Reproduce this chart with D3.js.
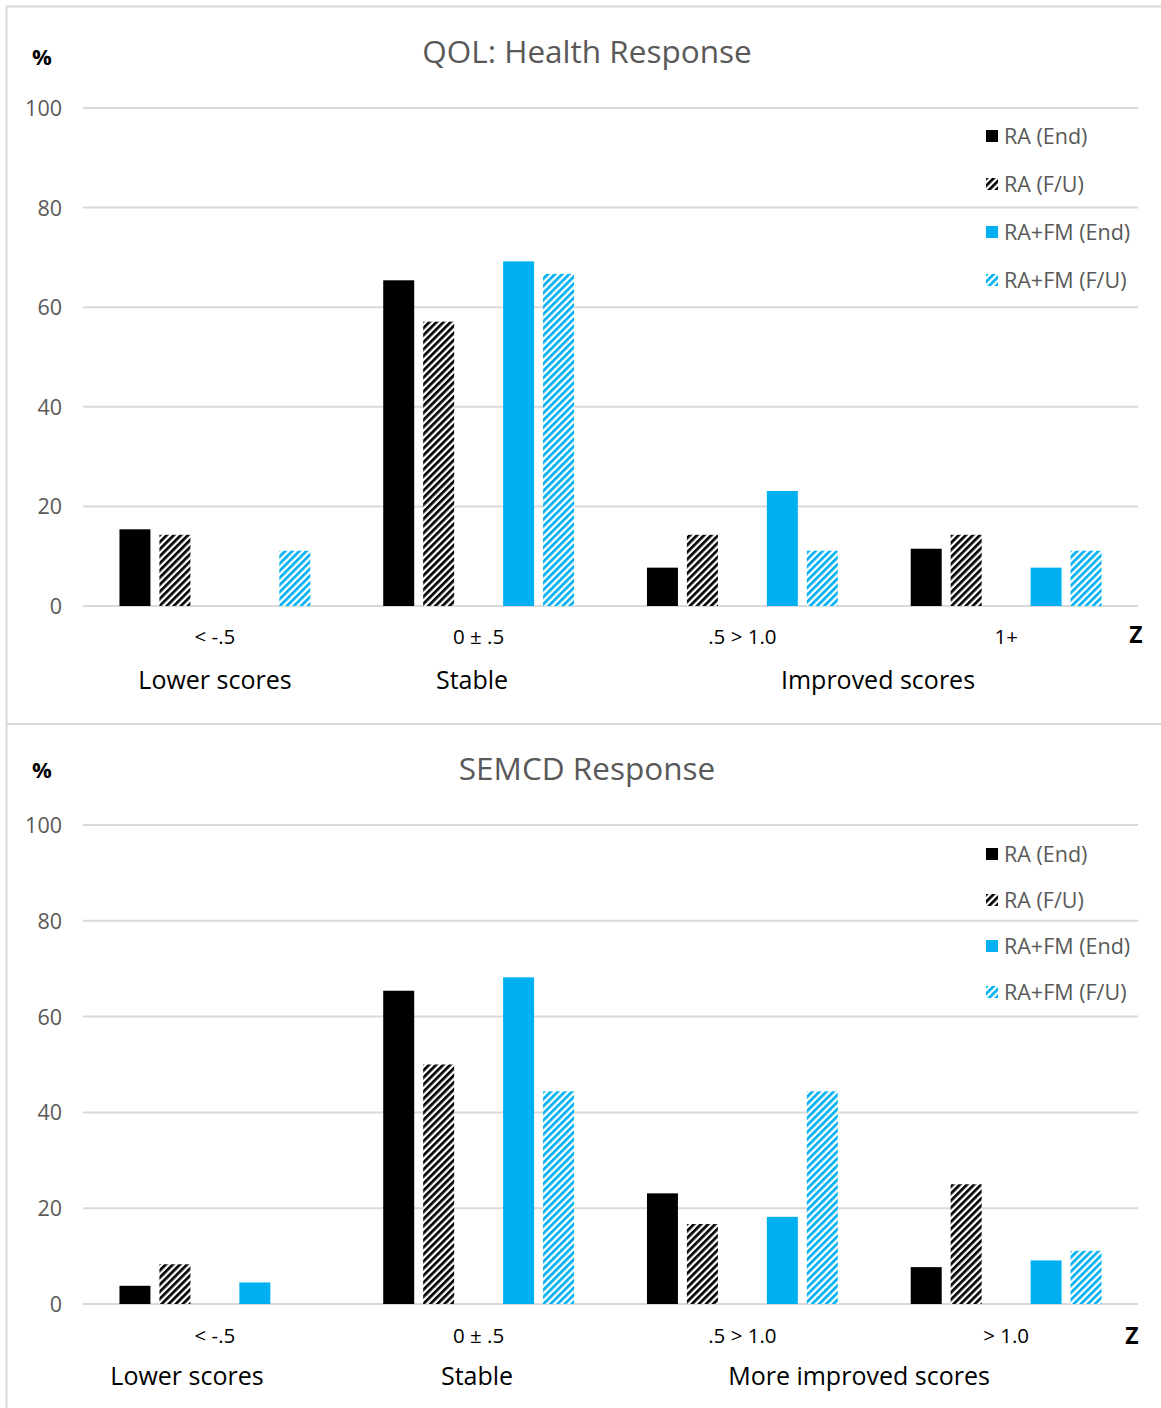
<!DOCTYPE html>
<html>
<head>
<meta charset="utf-8">
<script src="https://cdn.jsdelivr.net/npm/d3@7/dist/d3.min.js"></script>
<style>
  html, body { margin: 0; padding: 0; background: #fff; }
  svg { display: block; }
  text { font-family: "Open Sans", "DejaVu Sans", sans-serif; }
</style>
</head>
<body>
<svg id="chart" width="1161" height="1408"></svg>
<script>
// Z-score bands and their grouping labels
const zBandsQol = ["< -.5", "0 \u00b1 .5", ".5 > 1.0", "1+"];
const zBandsSemcd = ["< -.5", "0 \u00b1 .5", ".5 > 1.0", "> 1.0"];
const seriesNames = ["RA (End)", "RA (F/U)", "RA+FM (End)", "RA+FM (F/U)"];
const yTicks = [0, 20, 40, 60, 80, 100];

// QOL: Health Response (% of participants per band)
const qolRaEnd = [15.4, 65.4, 7.7, 11.5];
const qolRaFu = [14.3, 57.1, 14.3, 14.3];
const qolFmEnd = [0, 69.2, 23.1, 7.7];
const qolFmFu = [11.1, 66.7, 11.1, 11.1];

// SEMCD Response (% of participants per band)
const semRaEnd = [3.8, 65.4, 23.1, 7.7];
const semRaFu = [8.3, 50.0, 16.7, 25.0];
const semFmEnd = [4.5, 68.2, 18.2, 9.1];
const semFmFu = [0, 44.4, 44.4, 11.1];

const svg = d3.select("#chart");
const GRID = "#d9d9d9", GRAY = "#595959", BLUE = "#00b0f0";

// Wide upward-diagonal hatching
const defs = svg.append("defs");
function hatch(id, color) {
  const p = defs.append("pattern")
    .attr("id", id).attr("patternUnits", "userSpaceOnUse")
    .attr("width", 5).attr("height", 5)
    .attr("patternTransform", "rotate(45)");
  p.append("rect").attr("width", 5).attr("height", 5).attr("fill", "#fff");
  p.append("rect").attr("width", 2.7).attr("height", 5).attr("fill", color);
}
hatch("hatchBlack", "#000");
hatch("hatchBlue", BLUE);

const fills = ["#000", "url(#hatchBlack)", BLUE, "url(#hatchBlue)"];
// slot 2 is an empty spacer between the two programmes
const slotOf = [0, 1, 3, 4];

// Panel frames
svg.append("line").attr("x1", 6).attr("x2", 1161).attr("y1", 6.5).attr("y2", 6.5)
  .attr("stroke", GRID).attr("stroke-width", 2);
svg.append("line").attr("x1", 6.5).attr("x2", 6.5).attr("y1", 6).attr("y2", 1408)
  .attr("stroke", GRID).attr("stroke-width", 2);
svg.append("line").attr("x1", 6).attr("x2", 1161).attr("y1", 724).attr("y2", 724)
  .attr("stroke", GRID).attr("stroke-width", 2);

function panel(cfg) {
  const g = svg.append("g");
  const x = d3.scaleBand().domain(cfg.bands).range([83, 1138]);
  const xs = d3.scaleBand().domain(d3.range(5)).range([0, x.bandwidth()])
    .paddingInner(0.225).paddingOuter(0.9125);
  const y = d3.scaleLinear().domain([0, 100]).range([cfg.y0, cfg.y100]);

  // gridlines
  g.append("g").selectAll("line").data(yTicks).join("line")
    .attr("x1", 83).attr("x2", 1138)
    .attr("y1", d => y(d)).attr("y2", d => y(d))
    .attr("stroke", GRID).attr("stroke-width", 2);

  // y tick labels
  const yAxis = d3.axisLeft(y).tickValues(yTicks).tickSize(0).tickPadding(0);
  const ya = g.append("g").attr("transform", "translate(62,0)").call(yAxis);
  ya.select(".domain").remove();
  ya.selectAll("text").attr("fill", GRAY).style("font-size", "21.5px")
    .style("font-family", '"Open Sans", sans-serif').attr("dy", "0.35em");

  // bars
  cfg.series.forEach((vals, si) => {
    g.append("g").selectAll("rect").data(vals.map((v, i) => ({ v, band: cfg.bands[i] })))
      .join("rect")
      .filter(d => d.v > 0)
      .attr("x", d => x(d.band) + xs(slotOf[si]))
      .attr("width", xs.bandwidth())
      .attr("y", d => y(d.v))
      .attr("height", d => y(0) - y(d.v))
      .attr("fill", fills[si]);
  });

  // category labels along the bottom
  const xAxis = d3.axisBottom(x).tickSize(0).tickPadding(0);
  const xa = g.append("g").attr("transform", `translate(0,${cfg.catY})`).call(xAxis);
  xa.select(".domain").remove();
  xa.selectAll("text").attr("fill", "#000").style("font-size", "20.5px")
    .style("font-family", '"Open Sans", sans-serif').attr("dy", "0.35em").attr("y", 0);

  // title, unit and axis letter
  g.append("text").attr("x", 587).attr("y", cfg.titleY).attr("text-anchor", "middle")
    .attr("fill", GRAY).style("font-size", "31.5px").text(cfg.title);
  g.append("text").attr("x", 42).attr("y", cfg.pctY).attr("text-anchor", "middle")
    .attr("fill", "#000").style("font-size", "22px").style("font-weight", "bold").text("%");
  g.append("text").attr("x", cfg.zX).attr("y", cfg.zY).attr("text-anchor", "middle")
    .attr("fill", "#000").style("font-size", "23px").style("font-weight", "bold").text("Z");

  // group labels
  cfg.groups.forEach(gr => {
    g.append("text").attr("x", gr.x).attr("y", cfg.groupY).attr("text-anchor", "middle")
      .attr("fill", "#000").style("font-size", "25px").text(gr.label);
  });

  // legend
  const lg = g.append("g").selectAll("g").data(seriesNames).join("g")
    .attr("transform", (d, i) => `translate(986,${cfg.legY + i * cfg.legStep})`);
  lg.append("rect").attr("x", 0).attr("y", -6).attr("width", 12).attr("height", 12)
    .attr("fill", (d, i) => fills[i]);
  lg.append("text").attr("x", 18).attr("y", 0).attr("dy", "0.35em")
    .attr("fill", GRAY).style("font-size", "21.5px").text(d => d);
}

panel({
  title: "QOL: Health Response",
  bands: zBandsQol,
  series: [qolRaEnd, qolRaFu, qolFmEnd, qolFmFu],
  y0: 606, y100: 108,
  catY: 637, groupY: 689, titleY: 63, pctY: 65,
  zX: 1136, zY: 643,
  legY: 136, legStep: 48,
  groups: [{ label: "Lower scores", x: 215 }, { label: "Stable", x: 472 },
           { label: "Improved scores", x: 878 }]
});

panel({
  title: "SEMCD Response",
  bands: zBandsSemcd,
  series: [semRaEnd, semRaFu, semFmEnd, semFmFu],
  y0: 1304, y100: 825,
  catY: 1336, groupY: 1385, titleY: 780, pctY: 778,
  zX: 1132, zY: 1344,
  legY: 854, legStep: 46,
  groups: [{ label: "Lower scores", x: 187 }, { label: "Stable", x: 477 },
           { label: "More improved scores", x: 859 }]
});
</script>
</body>
</html>
